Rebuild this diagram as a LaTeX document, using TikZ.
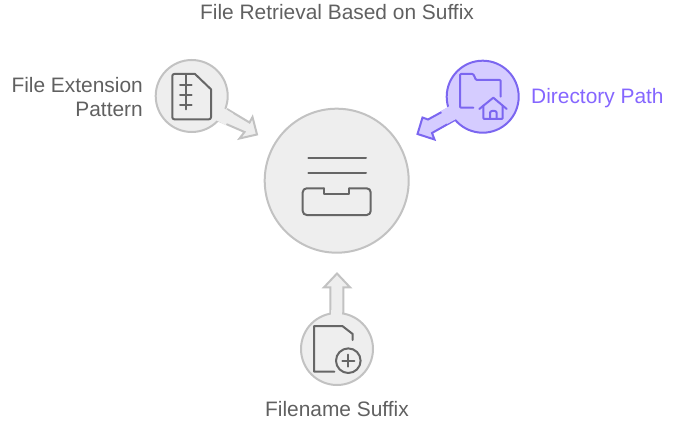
\documentclass[tikz,border=0pt]{standalone}
\usepackage{fontspec}
\setmainfont{Liberation Sans}
\definecolor{txtgrey}{HTML}{606060}
\definecolor{txtpurple}{HTML}{8566FF}
\definecolor{edgegrey}{HTML}{C2C2C2}
\definecolor{fillgrey}{HTML}{EEEEEE}
\definecolor{icongrey}{HTML}{666666}
\definecolor{edgepurple}{HTML}{7B66F0}
\definecolor{fillpurple}{HTML}{D5CCFF}
\tikzset{
  greyblob/.style={circle,draw=edgegrey,fill=fillgrey,line width=2pt,inner sep=0pt},
  purpleblob/.style={circle,draw=edgepurple,fill=fillpurple,line width=2pt,inner sep=0pt},
  greyarrow/.style={draw=edgegrey,fill=fillgrey,line width=2pt,line join=miter},
  purplearrow/.style={draw=edgepurple,fill=fillpurple,line width=2pt,line join=miter},
  greyicon/.style={draw=icongrey,line width=2pt,line join=round,line cap=round},
  purpleicon/.style={draw=edgepurple,line width=2pt,line join=round,line cap=round},
  label/.style={text=txtgrey,font=\fontsize{20.9}{24}\selectfont,inner sep=0pt},
}
\begin{document}
\begin{tikzpicture}[x=1pt,y=-1pt]
\useasboundingbox (0,0) rectangle (674,422);
% arrows
\draw[greyarrow] (227,109) -- (249.5,122.5) -- (252.5,117) -- (257,134.5) -- (239.5,138.5) -- (244.5,132) -- (218,120.5);
\draw[purplearrow] (449,108) -- (428,119.5) -- (422.5,117.5) -- (417.5,134) -- (434.5,139.5) -- (432,133) -- (455,120);
\draw[greyarrow] (330.3,316) -- (330.3,287.3) -- (324,287.3) -- (337,273.5) -- (350,287.3) -- (343.3,287.3) -- (343.3,316);
% circles
\node[greyblob,minimum size=144pt] (hub) at (336.7,180.7) {};
\node[greyblob,minimum size=72pt] (ext) at (191.7,96) {};
\node[purpleblob,minimum size=72pt] (dir) at (482.7,96.7) {};
\node[greyblob,minimum size=72pt] (suf) at (337,349) {};
% junction patches
\fill[fillgrey] (221.5,106.8) -- (233,113.6) -- (225.5,125.3) -- (214,119) -- cycle;
\fill[fillpurple] (451,105.2) -- (441,111) -- (447,124) -- (458,118) -- cycle;
\fill[fillgrey] (331.3,310) rectangle (342.3,318);
% hub icon
\draw[greyicon] (308.3,157.7) -- (366,157.7);
\draw[greyicon] (308.3,173.3) -- (366,173.3);
\draw[greyicon,rounded corners=4pt] (324,188.3) -- (302.7,188.3) -- (302.7,215) -- (370.7,215) -- (370.7,188.3) -- (349.3,188.3);
\draw[greyicon] (324,188.3) -- (324,194) -- (349.3,194) -- (349.3,188.3);
% extension icon
\draw[greyicon,rounded corners=2pt] (195,74) -- (172.3,74) -- (172.3,119.3) -- (211,119.3) -- (211,89.3);
\draw[greyicon] (195,74) -- (211,89.3);
\draw[greyicon] (185.7,74) -- (185.7,109.3);
\draw[greyicon] (180,85) -- (191.7,85) (180,95) -- (191.7,95) (180,105) -- (191.7,105);
% directory icon
\draw[purpleicon,rounded corners=1pt] (473.3,107.7) -- (460,107.7) -- (460,74) -- (473.3,74) -- (476,80) -- (500.7,80) -- (500.7,96.7);
\draw[purpleicon] (479.3,109) -- (493.3,97.7) -- (506.7,109);
\draw[purpleicon,rounded corners=1pt] (483.3,105.5) -- (483.3,119) -- (502.7,119) -- (502.7,105.5);
\draw[purpleicon,rounded corners=2pt] (490,119) -- (490,111) -- (496.7,111) -- (496.7,119);
% suffix icon
\draw[greyicon] (334.3,371.7) -- (314,371.7) -- (314,326) -- (342.3,326) -- (352.7,334) -- (352.7,340);
\draw[greyicon] (348.3,360.7) circle (12.3);
\draw[greyicon] (342.3,360.7) -- (354.3,360.7) (348.3,354.7) -- (348.3,366.7);
% labels
\node[label] (title) at (337,12) {File Retrieval Based on Suffix};
\node[label,align=right,anchor=east] (extl) at (143,97) {File Extension\\Pattern};
\node[label,text=txtpurple,anchor=west] (dirl) at (531,98.5) {Directory Path};
\node[label] (sufl) at (337,409) {Filename Suffix};
\end{tikzpicture}
\end{document}
